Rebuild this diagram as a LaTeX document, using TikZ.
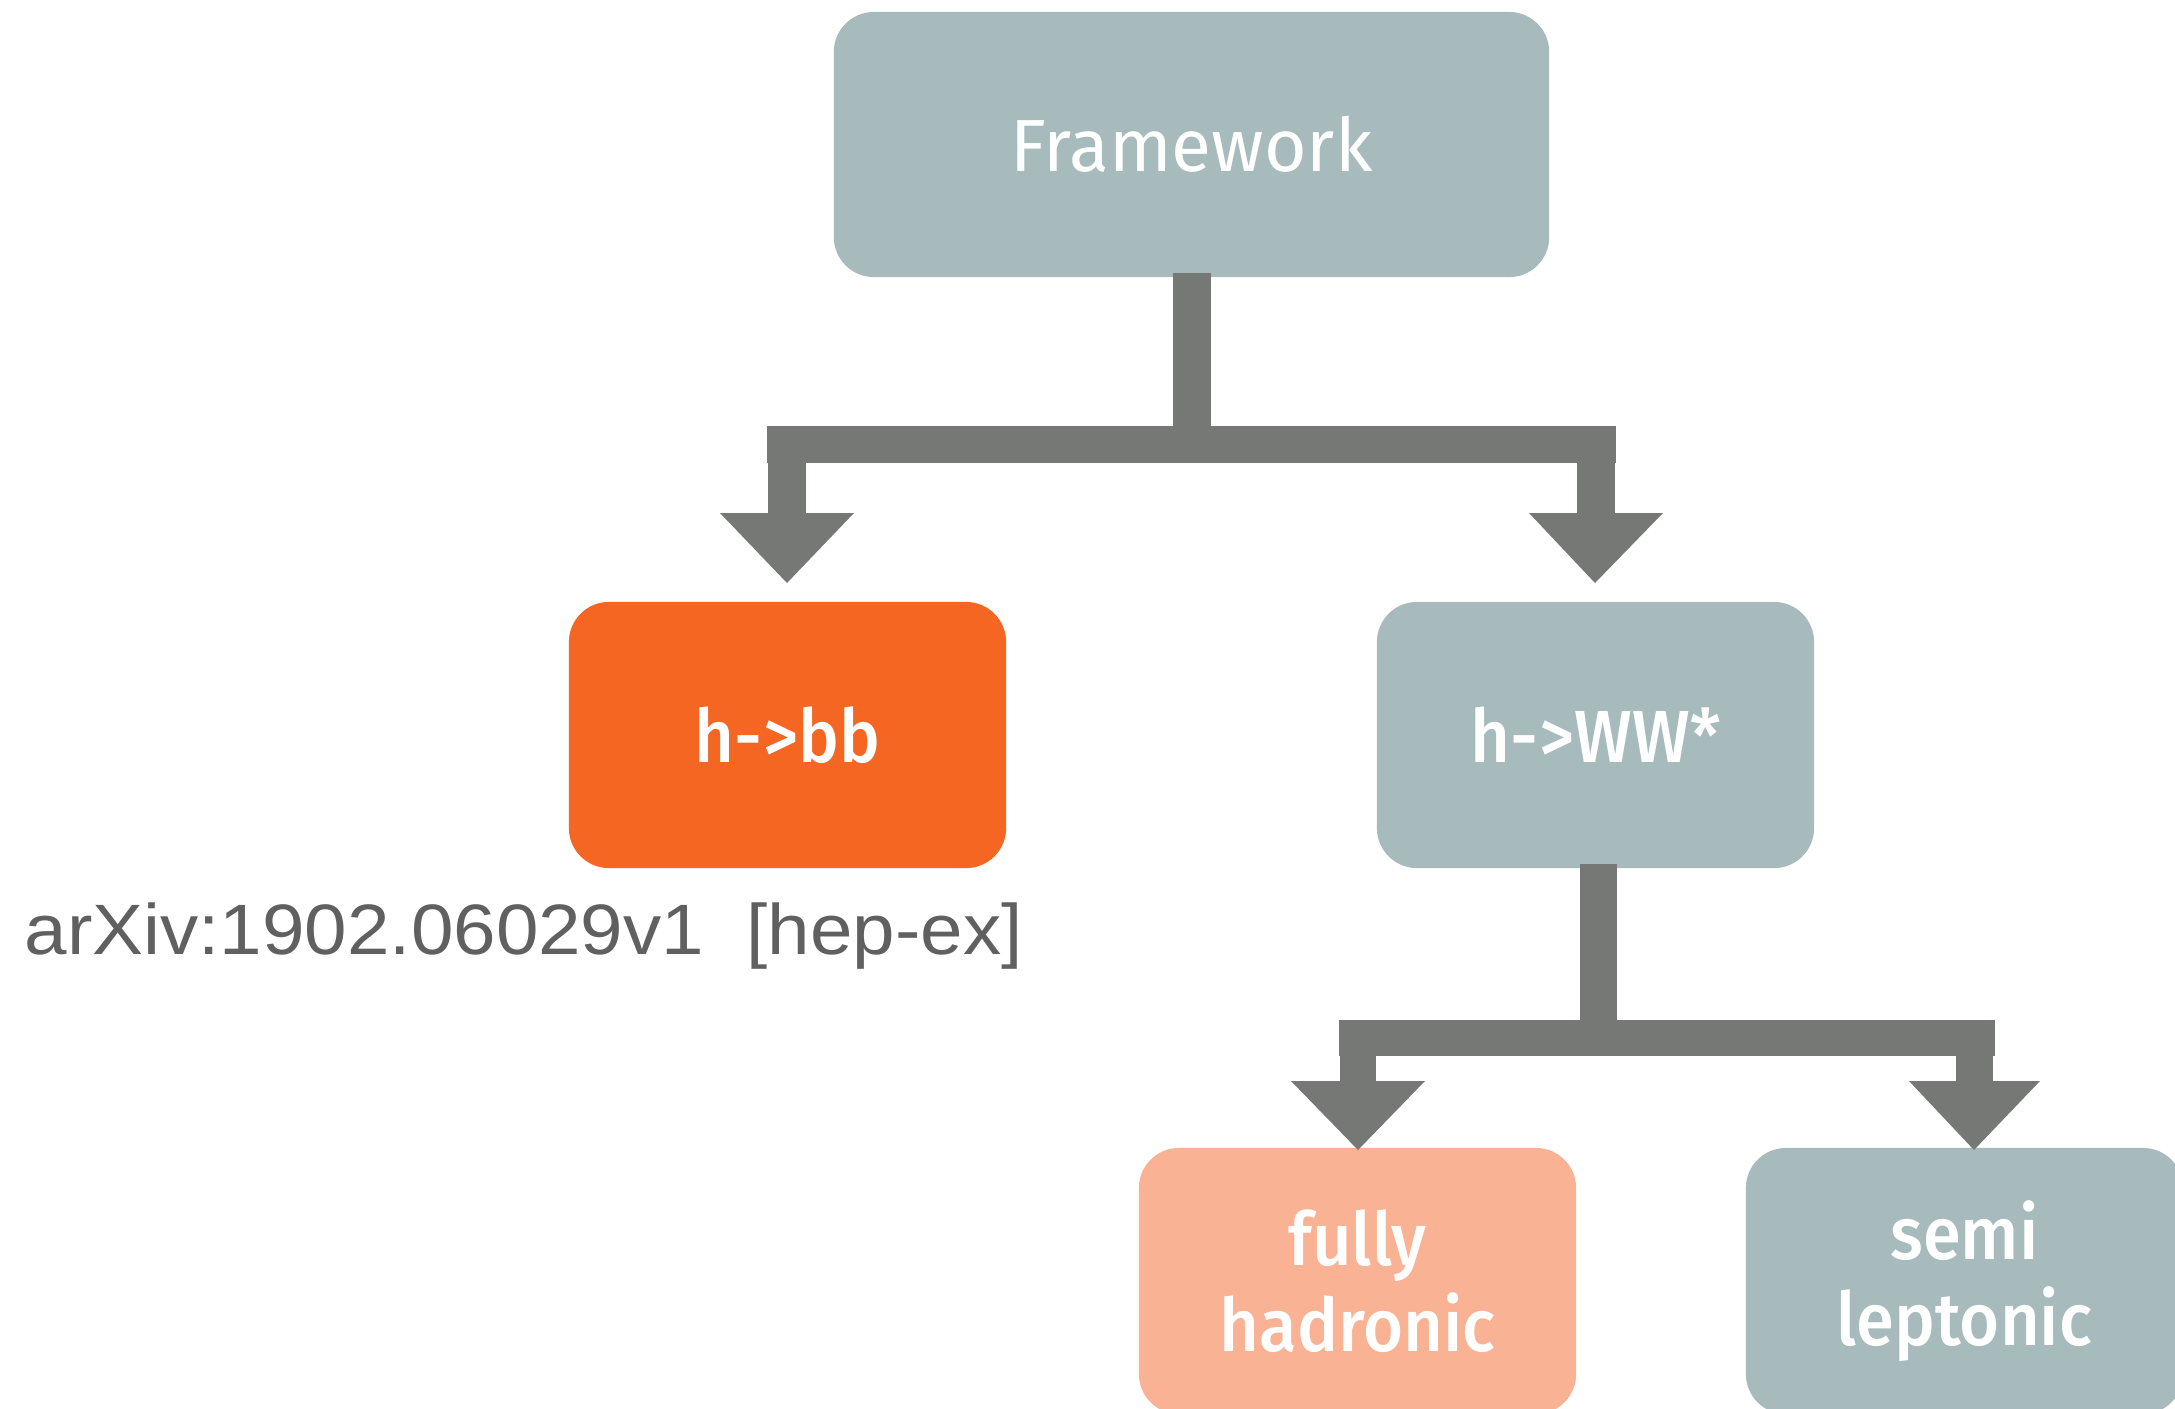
\documentclass[tikz,border=0pt]{standalone}
\usepackage{fontspec}
\setmainfont{Fira Sans}
\newfontfamily\medfont{Fira Sans}[UprightFont=* Medium, FakeStretch=0.93]
\newfontfamily\regfont{Fira Sans}[FakeStretch=0.99]
\newfontfamily\stampfont{Liberation Sans}[FakeStretch=1.07]
\definecolor{teal}{HTML}{A7BBBC}
\definecolor{orng}{HTML}{F66623}
\definecolor{salmon}{HTML}{F9B394}
\definecolor{conn}{HTML}{767876}
\definecolor{stamp}{HTML}{606060}
\tikzset{
  box/.style={rectangle, rounded corners=0.4cm, minimum width=4.37cm, minimum height=2.66cm,
    inner sep=0pt, text=white, align=center, font=\medfont\fontsize{21}{24.4}\selectfont},
  conn/.style={fill=conn, draw=none}
}
\begin{document}
\begin{tikzpicture}[x=0.01cm,y=-0.01cm]
\useasboundingbox (0,0) rectangle (2175,1408);
\clip (0,0) rectangle (2175,1408);
\node[box, fill=teal, minimum width=7.15cm, minimum height=2.65cm, font=\regfont\fontsize{21}{24.2}\selectfont] (fw) at (1191.5,144.5) {Framework};
\node[box, fill=orng] (bb) at (787.5,735) {h-\kern0.02em>bb};
\node[box, fill=teal] (ww) at (1595.5,735) {h-\kern0.02em>WW*};
\node[box, fill=salmon] (fh) at (1357.5,1281) {fully\\hadronic};
\node[box, fill=teal] (sl) at (1964.5,1281) {semi\\leptonic};
\node[anchor=base west, inner sep=0pt, text=stamp, font=\stampfont\fontsize{20.3}{24}\selectfont] (arx) at (24,954) {arXiv:1902.06029v1\ \ [hep-ex]};
% top connector: Framework -> h->bb, h->WW*
\fill[conn] (1173,273) rectangle (1211,426);
\fill[conn] (767,426) rectangle (1616,463);
\fill[conn] (768,463) rectangle (806,513);
\fill[conn] (720,513) -- (854,513) -- (787,583) -- cycle;
\fill[conn] (1577,463) rectangle (1615,513);
\fill[conn] (1529,513) -- (1663,513) -- (1595,583) -- cycle;
% bottom connector: h->WW* -> fully hadronic, semi leptonic
\fill[conn] (1580,864) rectangle (1617,1020);
\fill[conn] (1339,1020) rectangle (1995,1056);
\fill[conn] (1340,1056) rectangle (1376,1081);
\fill[conn] (1291,1081) -- (1425,1081) -- (1358,1150) -- cycle;
\fill[conn] (1956,1056) rectangle (1993,1081);
\fill[conn] (1909,1081) -- (2040,1081) -- (1974,1150) -- cycle;
\end{tikzpicture}
\end{document}
